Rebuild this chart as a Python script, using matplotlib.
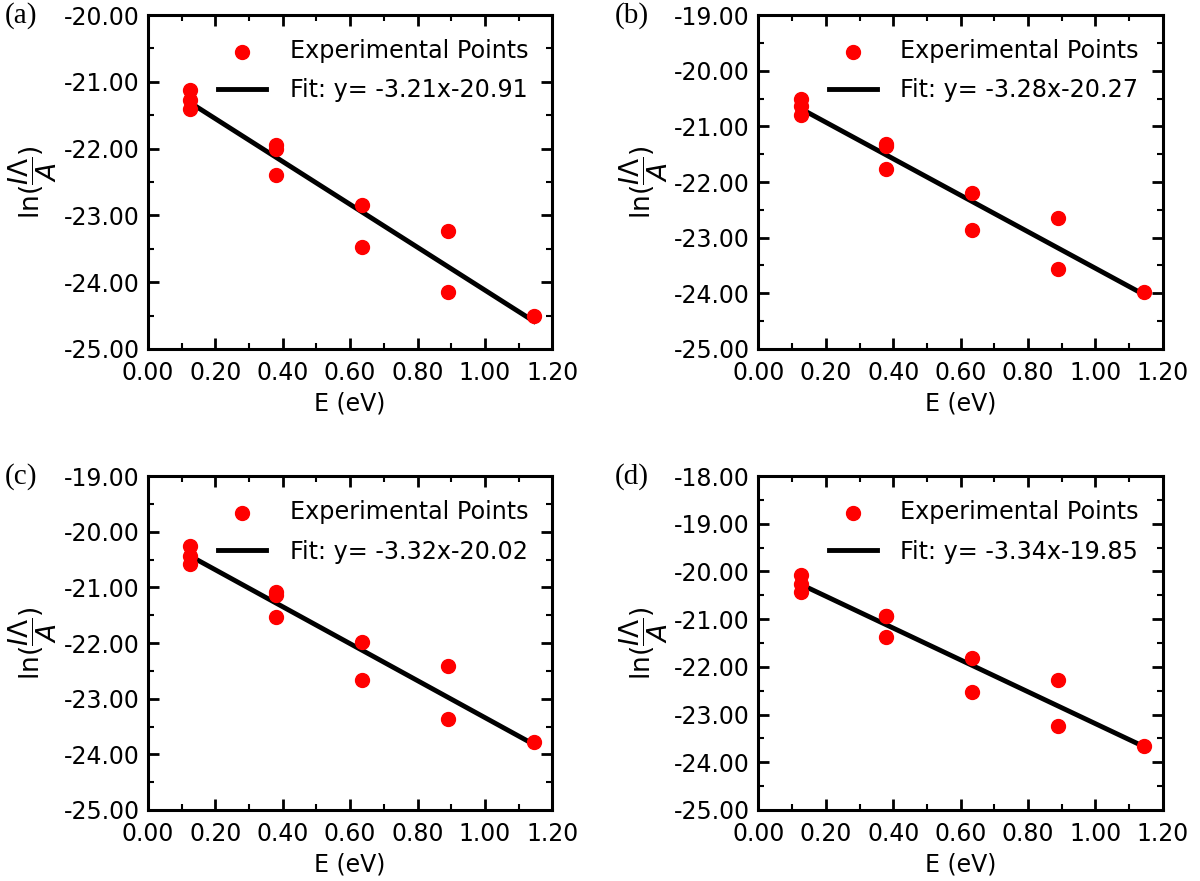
import numpy as np
import matplotlib
matplotlib.use('Agg')
import matplotlib.pyplot as plt
from matplotlib.ticker import MultipleLocator, FormatStrFormatter

# photon energies (eV), same for every panel
energy = [0.125, 0.125, 0.125, 0.38, 0.38, 0.38, 0.635, 0.635, 0.89, 0.89, 1.145]

ln_a = [-21.12, -21.27, -21.41, -21.95, -22.01, -22.39, -22.84, -23.47, -23.23, -24.14, -24.50]
ln_b = [-20.50, -20.64, -20.79, -21.31, -21.36, -21.76, -22.19, -22.87, -22.64, -23.56, -23.98]
ln_c = [-20.26, -20.44, -20.58, -21.08, -21.14, -21.54, -21.98, -22.67, -22.42, -23.37, -23.78]
ln_d = [-20.08, -20.27, -20.44, -20.93, -20.93, -21.37, -21.82, -22.52, -22.27, -23.23, -23.65]

slopes = [-3.21, -3.28, -3.32, -3.34]
intercepts = [-20.91, -20.27, -20.02, -19.85]
y_tops = [-20, -19, -19, -18]
panel_labels = ['(a)', '(b)', '(c)', '(d)']

plt.rcParams['font.family'] = 'DejaVu Sans'

fig = plt.figure(figsize=(12, 8.81), dpi=100)
positions = [
    [0.1233, 0.6039, 0.337, 0.379],
    [0.632, 0.6039, 0.337, 0.379],
    [0.1233, 0.0806, 0.337, 0.379],
    [0.632, 0.0806, 0.337, 0.379],
]

for i, ys in enumerate([ln_a, ln_b, ln_c, ln_d]):
    ax = fig.add_axes(positions[i])
    ax.scatter(energy, ys, s=100, color='red', zorder=3, label='Experimental Points')
    xs = np.array([min(energy), max(energy)])
    ax.plot(xs, slopes[i] * xs + intercepts[i], color='black', lw=3.5, zorder=2,
            label='Fit: y= %.2fx%.2f' % (slopes[i], intercepts[i]))

    ax.set_xlim(0, 1.2)
    ax.set_ylim(-25, y_tops[i])
    ax.xaxis.set_major_locator(MultipleLocator(0.2))
    ax.xaxis.set_minor_locator(MultipleLocator(0.1))
    ax.yaxis.set_major_locator(MultipleLocator(1))
    ax.yaxis.set_minor_locator(MultipleLocator(0.5))
    ax.xaxis.set_major_formatter(FormatStrFormatter('%.2f'))
    ax.yaxis.set_major_formatter(FormatStrFormatter('%.2f'))
    ax.tick_params(which='both', direction='in', top=True, right=True, labelsize=17)
    ax.tick_params(which='major', length=8, width=2)
    ax.tick_params(which='minor', length=4, width=1.5)
    ax.tick_params(axis='x', which='major', pad=9)
    ax.tick_params(axis='y', which='major', pad=6)
    for sp in ax.spines.values():
        sp.set_linewidth(2.2)

    ax.set_xlabel('E (eV)', fontsize=17, labelpad=4)
    ax.set_ylabel(r'$\ln(\dfrac{I\Lambda}{A})$', fontsize=19, labelpad=3)
    ax.legend(loc='upper right', frameon=False, fontsize=17.2, handlelength=2.0,
              handletextpad=1.0, borderaxespad=0.6, labelspacing=0.65)
    ax.text(-0.355, 1.0, panel_labels[i], transform=ax.transAxes, fontsize=21,
            family='Liberation Serif', va='center', ha='left')

fig.savefig('out.png', dpi=100)
